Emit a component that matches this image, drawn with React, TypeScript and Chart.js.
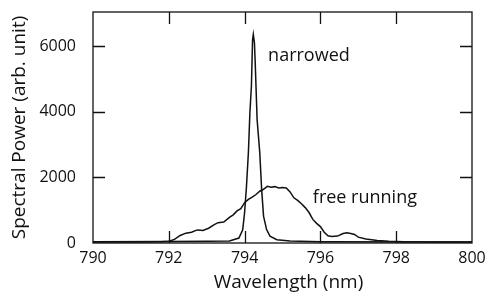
import React, { useEffect, useRef } from "react";
import { Chart, registerables } from "chart.js";

Chart.register(...registerables);

// Free-running spectrum (wavelength nm, power arb. unit)
const FREE_WL = [790.0, 791.0, 791.8, 792.0, 792.15, 792.3, 792.45, 792.6, 792.75, 792.9, 793.05, 793.2, 793.3, 793.45, 793.6, 793.7, 793.8, 793.9, 794.0, 794.1, 794.2, 794.3, 794.4, 794.5, 794.6, 794.7, 794.8, 794.9, 795.0, 795.1, 795.2, 795.3, 795.4, 795.5, 795.6, 795.7, 795.8, 795.9, 796.0, 796.1, 796.2, 796.3, 796.45, 796.6, 796.7, 796.8, 796.9, 797.0, 797.2, 797.5, 797.8, 798.2, 800.0];
const FREE_VAL = [30, 30, 40, 55, 110, 230, 300, 330, 400, 380, 450, 560, 620, 640, 780, 860, 980, 1050, 1230, 1330, 1400, 1480, 1580, 1640, 1730, 1700, 1720, 1680, 1690, 1680, 1560, 1380, 1300, 1200, 1080, 930, 720, 600, 500, 330, 220, 200, 210, 290, 310, 290, 260, 180, 120, 80, 50, 35, 30];

// Narrowed spectrum
const NARROW_WL = [790.0, 792.0, 793.0, 793.6, 793.85, 793.95, 794.0, 794.05, 794.1, 794.14, 794.18, 794.21, 794.23, 794.26, 794.28, 794.33, 794.4, 794.45, 794.5, 794.58, 794.67, 794.85, 795.2, 796.0, 800.0];
const NARROW_VAL = [40, 45, 50, 60, 150, 400, 930, 1730, 2760, 3980, 4800, 6200, 6366, 6100, 5500, 3770, 2760, 1630, 820, 410, 210, 100, 60, 40, 30];

const X_TICKS = [790, 792, 794, 796, 798, 800];
const Y_TICKS = [0, 2000, 4000, 6000];
const X_MIN = 790;
const X_MAX = 800;
const Y_MIN = 0;
const Y_MAX = 7050;

const X_TITLE = "Wavelength (nm)";
const Y_TITLE = "Spectral Power (arb. unit)";
const LABELS = ["narrowed", "free running"];
const LABEL_X = [794.62, 795.8];
const LABEL_Y = [5700, 1390];

const FONT = "'Open Sans', 'Noto Sans', sans-serif";

const framePlugin = {
  id: "frame",
  afterDatasetsDraw(chart: any) {
    const { ctx, chartArea, scales } = chart;
    const { left, right, top, bottom } = chartArea;
    const xs = scales.x;
    const ys = scales.y;
    const TL = 12;
    ctx.save();
    ctx.strokeStyle = "#111";
    ctx.lineWidth = 1.3;
    ctx.strokeRect(left, top, right - left, bottom - top);
    ctx.beginPath();
    X_TICKS.forEach((v) => {
      if (v === X_MIN || v === X_MAX) return;
      const px = Math.round(xs.getPixelForValue(v)) + 0.5;
      ctx.moveTo(px, bottom);
      ctx.lineTo(px, bottom - TL);
      ctx.moveTo(px, top);
      ctx.lineTo(px, top + TL);
    });
    Y_TICKS.forEach((v) => {
      if (v === Y_MIN) return;
      const py = Math.round(ys.getPixelForValue(v)) + 0.5;
      ctx.moveTo(left, py);
      ctx.lineTo(left + TL, py);
      ctx.moveTo(right, py);
      ctx.lineTo(right - TL, py);
    });
    ctx.stroke();
    ctx.fillStyle = "#111";
    ctx.font = `18px ${FONT}`;
    ctx.textAlign = "left";
    ctx.textBaseline = "middle";
    LABELS.forEach((t, i) => {
      ctx.fillText(t, xs.getPixelForValue(LABEL_X[i]), ys.getPixelForValue(LABEL_Y[i]));
    });
    // axis titles
    ctx.font = `19px ${FONT}`;
    ctx.textAlign = "center";
    ctx.fillText(X_TITLE, (left + right) / 2 + 6, 283);
    ctx.translate(20, (top + bottom) / 2);
    ctx.rotate(-Math.PI / 2);
    ctx.fillText(Y_TITLE, 0, 0);
    ctx.restore();
  },
};

export default function App() {
  const ref = useRef<HTMLCanvasElement | null>(null);
  useEffect(() => {
    document.body.style.margin = "0";
    const canvas = ref.current;
    if (!canvas) return;
    const chart = new Chart(canvas, {
      type: "line",
      data: {
        datasets: [
          {
            label: "narrowed",
            data: NARROW_WL.map((x, i) => ({ x, y: NARROW_VAL[i] })),
            borderColor: "#111",
            borderWidth: 1.5,
            pointRadius: 0,
            fill: false,
            tension: 0,
          },
          {
            label: "free running",
            data: FREE_WL.map((x, i) => ({ x, y: FREE_VAL[i] })),
            borderColor: "#111",
            borderWidth: 1.5,
            pointRadius: 0,
            fill: false,
            tension: 0,
          },
        ],
      },
      options: {
        animation: false,
        responsive: true,
        maintainAspectRatio: false,
        layout: { padding: { left: 0, right: 18, top: 12, bottom: 0 } },
        plugins: { legend: { display: false }, tooltip: { enabled: false } },
        scales: {
          x: {
            type: "linear",
            min: X_MIN,
            max: X_MAX,
            grid: { display: false, drawTicks: false },
            border: { display: false },
            afterBuildTicks: (s: any) => {
              s.ticks = X_TICKS.map((v) => ({ value: v }));
            },
            afterFit: (s: any) => {
              s.height = 55;
              s.paddingLeft = 0;
              s.paddingRight = 0;
            },
            ticks: {
              color: "#111",
              font: { family: FONT, size: 16 },
              padding: 6,
              maxRotation: 0,
              autoSkip: false,
              callback: (v: any) => String(v),
            },
          },
          y: {
            type: "linear",
            min: Y_MIN,
            max: Y_MAX,
            grid: { display: false, drawTicks: false },
            border: { display: false },
            afterBuildTicks: (s: any) => {
              s.ticks = Y_TICKS.map((v) => ({ value: v }));
            },
            afterFit: (s: any) => {
              s.width = 93;
              s.paddingTop = 0;
              s.paddingBottom = 0;
            },
            ticks: {
              color: "#111",
              font: { family: FONT, size: 16 },
              padding: 17,
              autoSkip: false,
              callback: (v: any) => String(v),
            },
          },
        },
      },
      plugins: [framePlugin],
    });
    return () => chart.destroy();
  }, []);
  return (
    <div style={{ position: "absolute", left: 0, top: 0, width: 490, height: 298 }}>
      <canvas ref={ref} />
    </div>
  );
}
